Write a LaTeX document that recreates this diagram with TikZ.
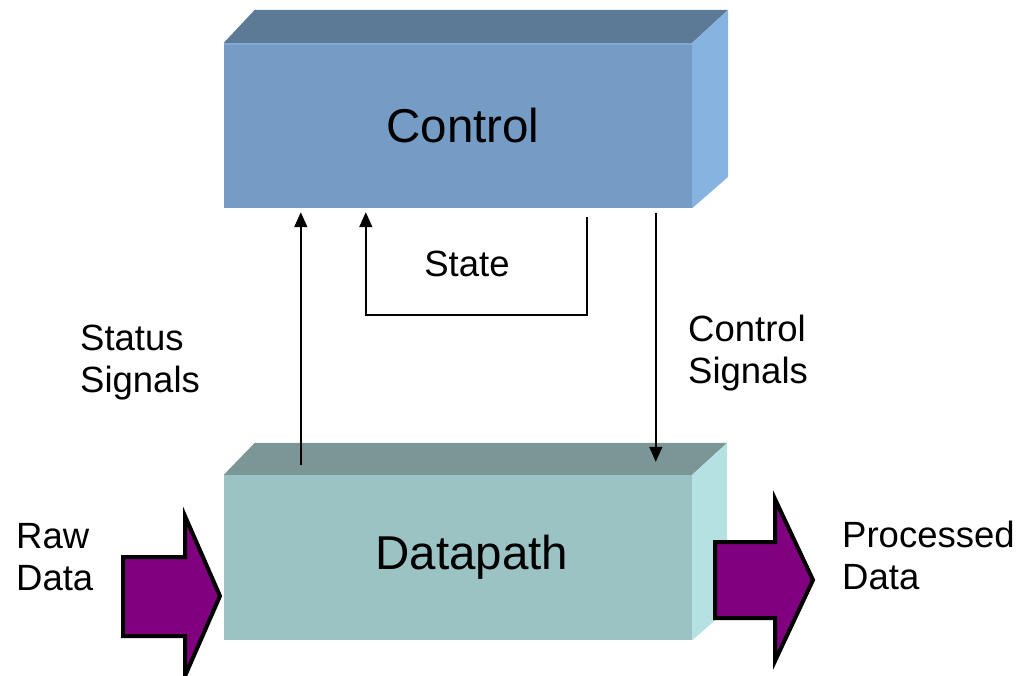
\documentclass[tikz,border=0pt]{standalone}
\usepackage{fontspec}
\setmainfont{Liberation Sans}
\usetikzlibrary{arrows.meta,calc}
\definecolor{ctrlfront}{RGB}{116,156,196}
\definecolor{ctrltop}{RGB}{92,122,150}
\definecolor{ctrlside}{RGB}{135,179,224}
\definecolor{dpfront}{RGB}{155,195,195}
\definecolor{dptop}{RGB}{122,150,150}
\definecolor{dpside}{RGB}{180,225,225}
\definecolor{bigarrow}{RGB}{128,0,128}
\begin{document}
\begin{tikzpicture}[x=1pt,y=-1pt,
  boxfront/.style={minimum width=468pt,minimum height=165pt,inner sep=0pt},
  boxtext/.style={inner sep=0pt,anchor=base,font=\fontsize{47.5}{56}\selectfont},
  sig/.style={line width=1.5pt,-{Triangle[length=15pt,width=13pt]}},
  lbl/.style={align=left,anchor=north west,inner sep=0pt,font=\fontsize{36.5}{42}\selectfont},
  fat/.style={draw=black,line width=4pt,fill=bigarrow,line join=miter}]
\useasboundingbox (0,0) rectangle (1023,675);

% Control box
\node[boxfront,fill=ctrlfront] (ctrl) at (458,125.5) {};
\path[fill=ctrltop] (ctrl.north west) -- ++(31,-33) -- ($(ctrl.north east)+(36,-33)$) -- (ctrl.north east) -- cycle;
\path[fill=ctrlside] (ctrl.north east) -- ++(36,-33) -- ++(0,167) -- (ctrl.south east) -- cycle;
\draw[ctrlside!60!ctrlfront,line width=2pt] ($(ctrl.north west)+(0,1)$) -- ($(ctrl.north east)+(0,1)$);
\node[boxtext] (ctrltext) at (463,142) {Control};

% Datapath box
\node[boxfront,fill=dpfront] (dp) at (458,557.5) {};
\path[fill=dptop] (dp.north west) -- ++(31,-32) -- ($(dp.north east)+(35,-32)$) -- (dp.north east) -- cycle;
\path[fill=dpside] (dp.north east) -- ++(35,-32) -- ++(0,167) -- (dp.south east) -- cycle;
\node[boxtext] (dptext) at (472,569) {Datapath};

% Signals
\draw[sig] ($(dp.north west)+(77,-10)$) -- ($(ctrl.south west)+(77,4)$);
\draw[sig] ($(ctrl.south west)+(363,9)$) -- ++(0,98) -| ($(ctrl.south west)+(142,4)$);
\draw[sig] ($(ctrl.south west)+(432,5)$) -- ($(dp.north west)+(432,-13)$);

\node[inner sep=0pt,anchor=base,font=\fontsize{36.5}{42}\selectfont] (statelbl) at (467,276) {State};
\node[lbl] (statuslbl) at (80,325) {Status\\Signals};
\node[lbl] (ctrlsiglbl) at (688,315) {Control\\Signals};
\node[lbl] (rawlbl) at (16,523) {Raw\\Data};
\node[lbl] (proclbl) at (842,521) {Processed\\Data};

% Big data arrows
\draw[fat] (123,557) -- (185,557) -- (185,516) -- (220,596) -- (185,676) -- (185,636) -- (123,636) -- cycle;
\draw[fat] (715,542) -- (775,542) -- (775,499) -- (813,580) -- (775,661) -- (775,618) -- (715,618) -- cycle;
\end{tikzpicture}
\end{document}
